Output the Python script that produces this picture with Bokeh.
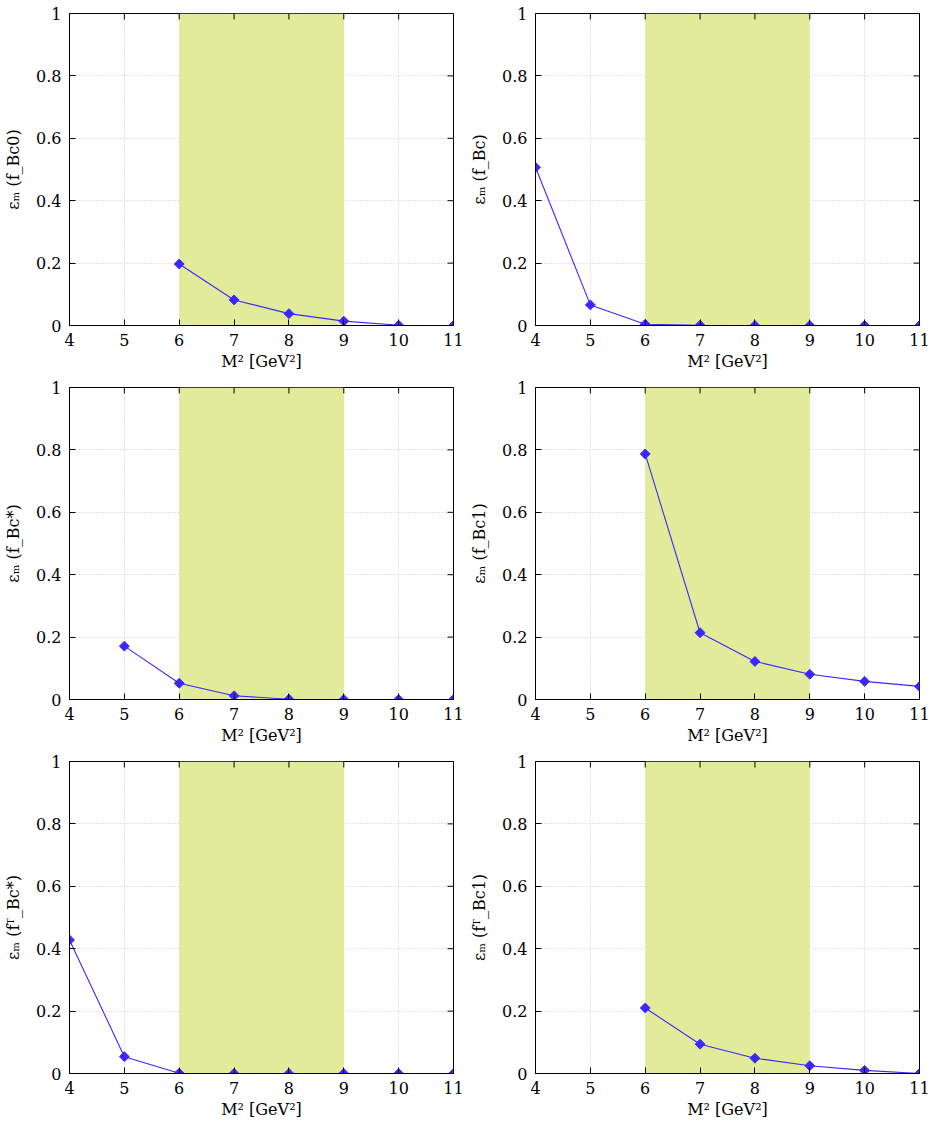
import numpy as np
from bokeh.plotting import figure
from bokeh.layouts import gridplot
from bokeh.models import Range1d, FixedTicker
from bokeh.embed import file_html
from bokeh.resources import INLINE

# ---- data ----
x_ticks = [4, 5, 6, 7, 8, 9, 10, 11]
y_ticks = [0, 0.2, 0.4, 0.6, 0.8, 1.0]
band_lo = 6
band_hi = 9

labels = ["εₘ (f_Bc0)", "εₘ (f_Bc)", "εₘ (f_Bc*)", "εₘ (f_Bc1)", "εₘ (fᵀ_Bc*)", "εₘ (fᵀ_Bc1)"]

x_fBc0 = [6, 7, 8, 9, 10, 11]
y_fBc0 = [0.197, 0.082, 0.038, 0.014, 0.001, 0.0]

x_fBc = [4, 5, 6, 7, 8, 9, 10, 11]
y_fBc = [0.507, 0.066, 0.004, 0.001, 0.0, 0.0, 0.0, 0.0]

x_fBcs = [5, 6, 7, 8, 9, 10, 11]
y_fBcs = [0.171, 0.052, 0.012, 0.001, 0.0, 0.0, 0.0]

x_fBc1 = [6, 7, 8, 9, 10, 11]
y_fBc1 = [0.787, 0.214, 0.122, 0.081, 0.058, 0.042]

x_fTBcs = [4, 5, 6, 7, 8, 9, 10, 11]
y_fTBcs = [0.428, 0.054, 0.001, 0.0, 0.0, 0.0, 0.0, 0.0]

x_fTBc1 = [6, 7, 8, 9, 10, 11]
y_fTBc1 = [0.210, 0.094, 0.049, 0.025, 0.010, 0.0]

series = [(x_fBc0, y_fBc0), (x_fBc, y_fBc), (x_fBcs, y_fBcs),
          (x_fBc1, y_fBc1), (x_fTBcs, y_fTBcs), (x_fTBc1, y_fTBc1)]

FONT = "DejaVu Serif"
FS = "16px"
LINE = "#3c28ff"
BAND = "#e1eb99"


def style_axis(ax):
    ax.axis_line_color = "black"
    ax.major_tick_in = 6
    ax.major_tick_out = 0
    ax.minor_tick_in = 0
    ax.minor_tick_out = 0
    ax.major_tick_line_color = "black"
    ax.major_label_text_font = FONT
    ax.major_label_text_font_size = FS
    ax.major_label_text_color = "black"
    ax.axis_label_text_font = FONT
    ax.axis_label_text_font_size = FS
    ax.axis_label_text_font_style = "normal"
    ax.axis_label_text_color = "black"


def make_panel(xs, ys, ylabel):
    p = figure(width=466, height=374, output_backend="svg", toolbar_location=None,
               x_range=Range1d(4, 11), y_range=Range1d(0, 1),
               min_border_left=69, min_border_right=13, min_border_top=13, min_border_bottom=49)
    p.background_fill_color = "white"
    p.border_fill_color = "white"
    p.outline_line_color = "black"
    p.outline_line_width = 1

    p.xaxis.ticker = FixedTicker(ticks=x_ticks)
    p.yaxis.ticker = FixedTicker(ticks=y_ticks)
    p.xaxis.axis_label = "M² [GeV²]"
    p.yaxis.axis_label = ylabel
    for ax in p.xaxis:
        style_axis(ax)
        ax.major_label_standoff = 8
        ax.axis_label_standoff = 3
    for ax in p.yaxis:
        style_axis(ax)
        ax.major_label_standoff = 8
        ax.axis_label_standoff = 10

    p.xgrid.ticker = FixedTicker(ticks=x_ticks)
    p.ygrid.ticker = FixedTicker(ticks=y_ticks)
    p.grid.grid_line_color = "#c8c8c8"
    p.grid.grid_line_dash = "1 2"
    p.grid.grid_line_width = 1

    p.quad(left=[band_lo], right=[band_hi], bottom=[0], top=[1],
           fill_color=BAND, line_color=None)

    # mirrored inward ticks on right and top edges
    p.ray(x=[x_ticks[-1]] * len(y_ticks), y=y_ticks, length=6, length_units="screen",
          angle=np.pi, line_color="black", line_width=1)
    p.ray(x=x_ticks, y=[y_ticks[-1]] * len(x_ticks), length=6, length_units="screen",
          angle=-np.pi / 2, line_color="black", line_width=1)

    p.line(xs, ys, line_color=LINE, line_width=1.1)
    p.scatter(xs, ys, marker="square", size=7, angle=np.pi / 4,
              fill_color=LINE, line_color=LINE)
    return p


panels = [make_panel(xs, ys, lab) for (xs, ys), lab in zip(series, labels)]

grid = gridplot([[panels[0], panels[1]], [panels[2], panels[3]], [panels[4], panels[5]]],
                toolbar_location=None)

open("out.html", "w").write(file_html(grid, INLINE))
